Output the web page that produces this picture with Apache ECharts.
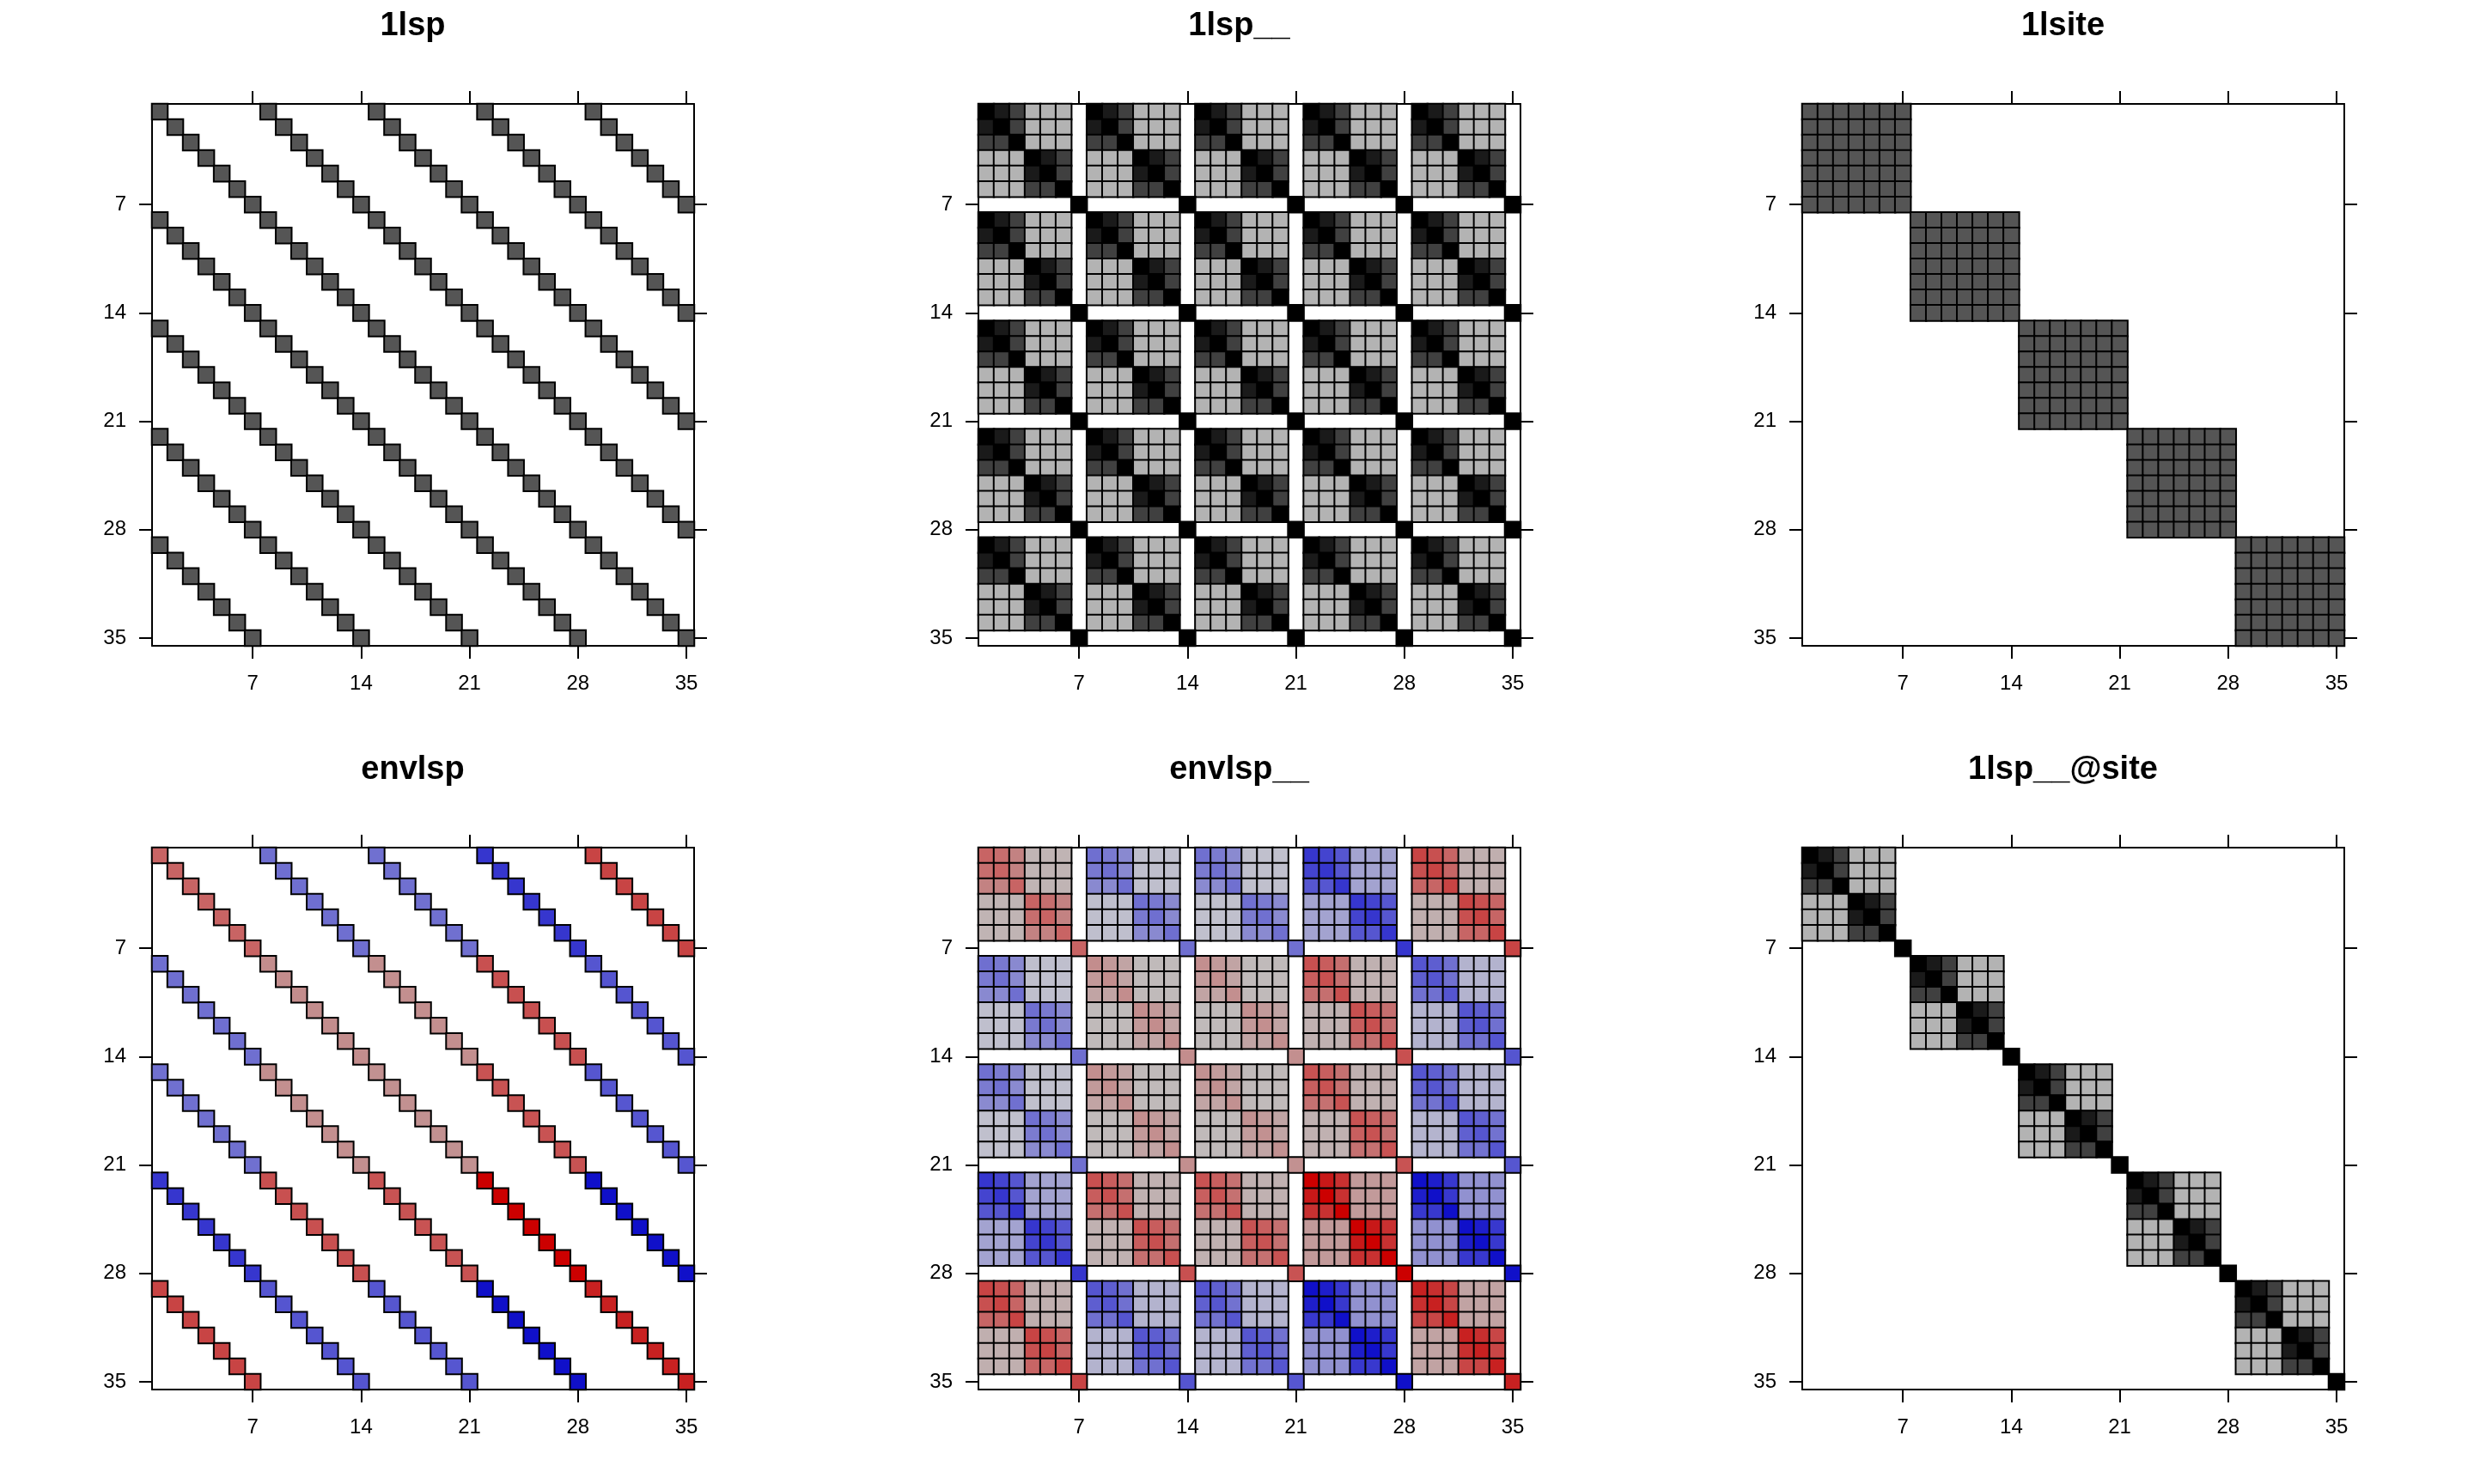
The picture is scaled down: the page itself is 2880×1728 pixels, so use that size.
<!DOCTYPE html>
<html>
<head>
<meta charset="utf-8">
<script src="https://cdn.jsdelivr.net/npm/echarts@6/dist/echarts.min.js"></script>
<style>
  html, body { margin: 0; padding: 0; background: #ffffff; }
  #chart { width: 2880px; height: 1728px; }
</style>
</head>
<body>
<div id="chart"></div>
<script>
// ---- data ----
const titles = ['1lsp', '1lsp__', '1lsite', 'envlsp', 'envlsp__', '1lsp__@site'];
const cellLabels = ['1','2','3','4','5','6','7','8','9','10','11','12','13','14','15','16','17','18',
  '19','20','21','22','23','24','25','26','27','28','29','30','31','32','33','34','35'];
const tickLabels = ['7', '14', '21', '28', '35'];
const nSpecies = 7;      // species within each site block
const nSites = 5;        // site blocks
// environmental covariate per site (scaled)
const siteEnv = [0.70, -0.58, -0.57, -1.00, 0.92];
// species-level correlation (1lsp__)
const spCorr = [
  [1.00, 0.90, 0.75, 0.30, 0.30, 0.30, 0.00],
  [0.90, 1.00, 0.75, 0.30, 0.30, 0.30, 0.00],
  [0.75, 0.75, 1.00, 0.30, 0.30, 0.30, 0.00],
  [0.30, 0.30, 0.30, 1.00, 0.90, 0.75, 0.00],
  [0.30, 0.30, 0.30, 0.90, 1.00, 0.75, 0.00],
  [0.30, 0.30, 0.30, 0.75, 0.75, 1.00, 0.00],
  [0.00, 0.00, 0.00, 0.00, 0.00, 0.00, 1.00]
];

// ---- build the six 35x35 matrices (sparse: zero cells are not drawn) ----
function build(fn) {
  const out = [];
  for (let i = 0; i < cellLabels.length; i++) {
    for (let j = 0; j < cellLabels.length; j++) {
      const si = Math.floor(i / nSpecies), sj = Math.floor(j / nSpecies);
      const ki = i % nSpecies, kj = j % nSpecies;
      const v = fn(si, sj, ki, kj);
      if (v !== 0) out.push([j, i, v]);
    }
  }
  return out;
}
const matrices = [
  build((si, sj, ki, kj) => (ki === kj ? 1 : 0)),
  build((si, sj, ki, kj) => spCorr[ki][kj]),
  build((si, sj, ki, kj) => (si === sj ? 1 : 0)),
  build((si, sj, ki, kj) => (ki === kj ? siteEnv[si] * siteEnv[sj] : 0)),
  build((si, sj, ki, kj) => siteEnv[si] * siteEnv[sj] * spCorr[ki][kj]),
  build((si, sj, ki, kj) => (si === sj ? spCorr[ki][kj] : 0))
];

// ---- layout ----
const colLeft = [177, 1139, 2098];
const rowTop = [121, 987];
const size = 631;
const titleTop = [12, 878];
const FONT = '"Liberation Sans", Arial, Helvetica, sans-serif';

const showTick = (idx) => tickLabels.indexOf(cellLabels[idx]) >= 0;

const grids = [], xAxes = [], yAxes = [], series = [], titleOpts = [];
const lineStyle = { color: '#000', width: 2 };
for (let p = 0; p < 6; p++) {
  const r = Math.floor(p / 3), c = p % 3;
  grids.push({ left: colLeft[c], top: rowTop[r], width: size, height: size, containLabel: false });
  titleOpts.push({
    text: titles[p], left: colLeft[c] + size / 2 - 12, top: titleTop[r], padding: 0,
    textAlign: 'center',
    textStyle: { fontFamily: FONT, fontSize: 38, fontWeight: 'bold', color: '#000' }
  });
  const axisCommon = {
    type: 'category', data: cellLabels, gridIndex: p,
    axisLine: { show: true, onZero: false, lineStyle },
    axisTick: { show: true, alignWithLabel: true, interval: (i) => showTick(i), length: 15, inside: false, lineStyle },
    splitLine: { show: false }
  };
  xAxes.push(Object.assign({}, axisCommon, {
    position: 'bottom',
    axisLabel: { show: true, interval: (i) => showTick(i), margin: 32, fontFamily: FONT, fontSize: 24, color: '#000' }
  }));
  xAxes.push(Object.assign({}, axisCommon, { position: 'top', axisLabel: { show: false } }));
  yAxes.push(Object.assign({}, axisCommon, {
    position: 'left', inverse: true,
    axisLabel: { show: true, interval: (i) => showTick(i), margin: 30, fontFamily: FONT, fontSize: 24, color: '#000' }
  }));
  yAxes.push(Object.assign({}, axisCommon, { position: 'right', inverse: true, axisLabel: { show: false } }));
  series.push({
    type: 'heatmap', name: titles[p],
    xAxisIndex: 2 * p, yAxisIndex: 2 * p,
    data: matrices[p],
    itemStyle: { borderColor: '#000', borderWidth: 2 },
    emphasis: { disabled: true },
    progressive: 0, animation: false
  });
}

const chart = echarts.init(document.getElementById('chart'), null, { renderer: 'canvas' });
chart.setOption({
  backgroundColor: '#ffffff',
  animation: false,
  title: titleOpts,
  grid: grids,
  xAxis: xAxes,
  yAxis: yAxes,
  visualMap: [
    { type: 'continuous', show: false, seriesIndex: [0, 2], min: 0, max: 1, dimension: 2,
      inRange: { color: ['#555555', '#555555'] } },
    { type: 'continuous', show: false, seriesIndex: [1, 5], min: 0, max: 1, dimension: 2,
      inRange: { color: ['#ffffff', '#000000'] } },
    { type: 'continuous', show: false, seriesIndex: [3, 4], min: -1, max: 1, dimension: 2,
      inRange: { color: [
        '#0000cc', '#1414c8', '#2222cc', '#3636ce', '#4a4ad0', '#5a5ad0', '#7070d0', '#8a8ad0',
        '#a6a6d0', '#c6c6cc', '#c4c0c0', '#c0baba', '#c0aeae', '#c29a9a', '#c47676', '#c86262',
        '#c84c4c', '#c83a3a', '#c82828', '#c81818', '#cc0000'
      ] } }
  ],
  series: series
});
</script>
</body>
</html>
